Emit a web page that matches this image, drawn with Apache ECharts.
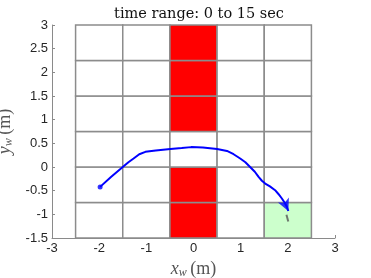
<!DOCTYPE html>
<html>
<head>
<meta charset="utf-8">
<script src="https://cdn.jsdelivr.net/npm/echarts@6/dist/echarts.min.js"></script>
<style>html,body{margin:0;padding:0;background:#fff}#c{width:371px;height:278px}</style>
</head>
<body>
<div id="c"></div>
<script>
// Grid cells (lower-left corner), size 1 x 0.75
const cellX = [-2.5,-1.5,-0.5,0.5,1.5, -2.5,-1.5,-0.5,0.5,1.5, -2.5,-1.5,-0.5,0.5,1.5, -2.5,-1.5,-0.5,0.5,1.5, -2.5,-1.5,-0.5,0.5,1.5, -2.5,-1.5,-0.5,0.5,1.5];
const cellY = [-1.5,-1.5,-1.5,-1.5,-1.5, -0.75,-0.75,-0.75,-0.75,-0.75, 0,0,0,0,0, 0.75,0.75,0.75,0.75,0.75, 1.5,1.5,1.5,1.5,1.5, 2.25,2.25,2.25,2.25,2.25];
const cellType = ['free','free','obstacle','free','goal', 'free','free','obstacle','free','free', 'free','free','free','free','free', 'free','free','obstacle','free','free', 'free','free','obstacle','free','free', 'free','free','obstacle','free','free'];
const cellW = 1, cellH = 0.75;

// Trajectory
const trajX = [-1.98,-1.75,-1.5,-1.38,-1.27,-1.15,-1.02,-0.8,-0.49,-0.25,-0.05,0.2,0.5,0.71,0.85,0.99,1.1,1.2,1.3,1.38,1.45,1.52,1.62,1.73,1.8,1.87,1.93,1.98,2.01];
const trajY = [-0.42,-0.21,0.0,0.1,0.18,0.27,0.32,0.35,0.38,0.40,0.42,0.41,0.38,0.34,0.27,0.18,0.10,0.0,-0.1,-0.21,-0.29,-0.35,-0.41,-0.49,-0.57,-0.66,-0.75,-0.84,-0.93];
const robotX = [1.99];
const robotY = [-1.08];

const titleText = 'time range: 0 to 15 sec';

const typeColor = {free:'#ffffff', obstacle:'#ff0000', goal:'#ccffcc'};
const cells = cellX.map((x,i)=>[x, cellY[i], cellType[i]]);
const traj = trajX.map((x,i)=>[x, trajY[i]]);
const n = traj.length;
const last = traj[n-1], prev = traj[n-3];

const chart = echarts.init(document.getElementById('c'), null, {renderer:'canvas'});
const axisColor = '#8a8a8a';
const labelColor = '#262626';
const nameRich = {
  i:{fontFamily:'Liberation Serif', fontStyle:'italic', fontSize:18, color:'#555'},
  s:{fontFamily:'Liberation Serif', fontStyle:'italic', fontSize:12, color:'#555', verticalAlign:'bottom', padding:[7,0,0,0]},
  n:{fontFamily:'Liberation Serif', fontSize:18, color:'#555'}};
chart.setOption({
  animation:false,
  title:{text:titleText, left:194, top:2, textAlign:'center',
    textStyle:{fontFamily:'DejaVu Serif', fontSize:14.5, fontWeight:'normal', color:'#111'}},
  grid:{left:52, right:36, top:25, bottom:40, containLabel:false, outerBoundsMode:'none'},
  xAxis:{type:'value', min:-3, max:3, interval:1,
    axisLine:{show:true, onZero:false, lineStyle:{color:axisColor, width:1}},
    axisTick:{show:true, inside:true, length:3, lineStyle:{color:axisColor}},
    splitLine:{show:false},
    axisLabel:{color:labelColor, fontFamily:'Liberation Sans', fontSize:13, margin:4},
    name:'{i|x}{s|w} {n|(m)}', nameLocation:'middle', nameGap:21,
    nameTextStyle:{rich:nameRich}
  },
  yAxis:{type:'value', min:-1.5, max:3, interval:0.5,
    axisLine:{show:true, onZero:false, lineStyle:{color:axisColor, width:1}},
    axisTick:{show:true, inside:true, length:3, lineStyle:{color:axisColor}},
    splitLine:{show:false},
    axisLabel:{color:labelColor, fontFamily:'Liberation Sans', fontSize:13, margin:4},
    name:'{i|y}{s|w} {n|(m)}', nameLocation:'middle', nameGap:30, nameRotate:90,
    nameTextStyle:{rich:nameRich}
  },
  series:[
    {type:'custom', data:cells, z:1,
      renderItem:function(params, api){
        const x = api.value(0), y = api.value(1);
        const p0 = api.coord([x, y+cellH]);
        const p1 = api.coord([x+cellW, y]);
        return {type:'rect', shape:{x:p0[0], y:p0[1], width:p1[0]-p0[0], height:p1[1]-p0[1]},
          style:{fill:typeColor[cells[params.dataIndex][2]], stroke:'#8c8c8c', lineWidth:1.5}};
      }},
    {type:'line', data:traj, showSymbol:false, smooth:false, z:3,
      lineStyle:{color:'#0000ff', width:2}},
    {type:'scatter', data:[traj[0]], symbol:'circle', symbolSize:5, z:4,
      itemStyle:{color:'#0000ff'}},
    {type:'scatter', data:[last], symbol:'arrow', symbolSize:[9,12], z:4,
      symbolRotate: 180 + Math.atan2(last[0]-prev[0], -(last[1]-prev[1])*1.0)*180/Math.PI,
      itemStyle:{color:'#0000ff'}},
    {type:'scatter', data:robotX.map((x,i)=>[x, robotY[i]]), symbol:'rect', symbolSize:[2,7], z:5,
      symbolRotate:15, itemStyle:{color:'#555'}}
  ]
});
</script>
</body>
</html>
